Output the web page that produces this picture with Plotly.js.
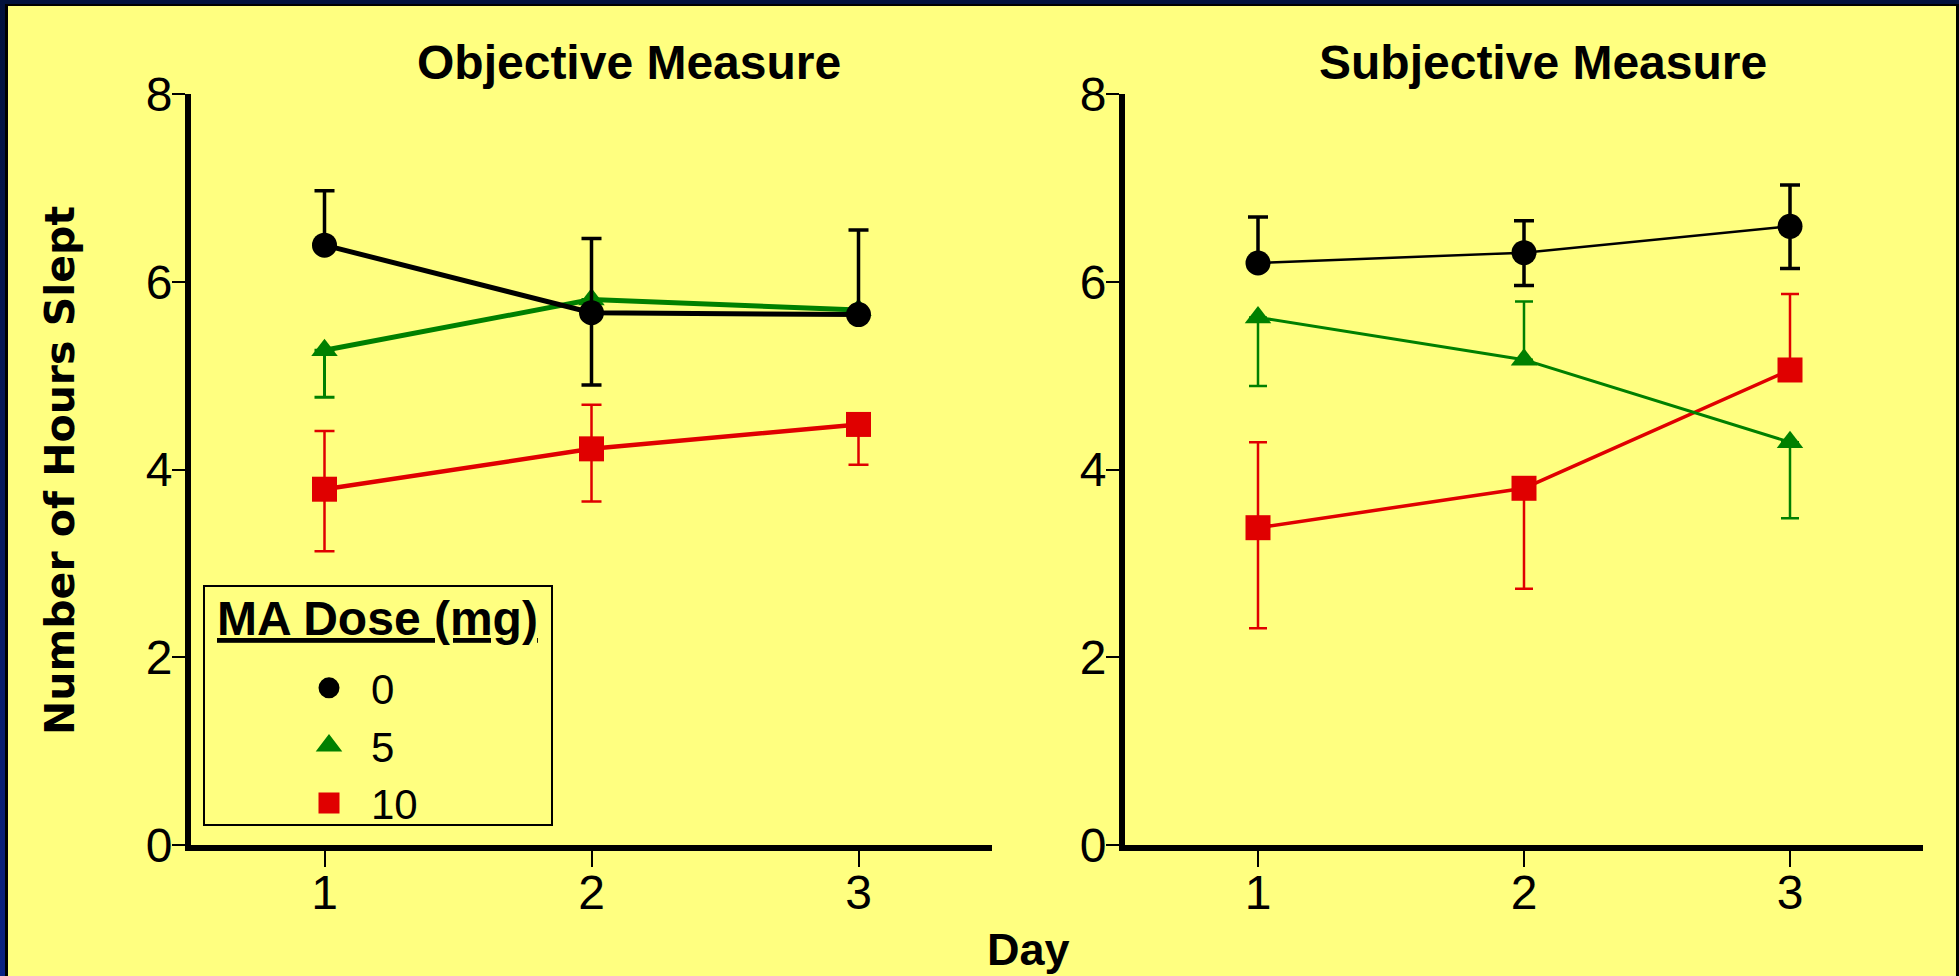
<!DOCTYPE html>
<html>
<head>
<meta charset="utf-8">
<script src="https://cdn.plot.ly/plotly-3.0.1.min.js"></script>
<style>
  html, body { margin: 0; padding: 0; }
  body { width: 1959px; height: 976px; overflow: hidden; background: linear-gradient(to bottom, #02113c 0%, #07195e 55%, #0b2282 100%); position: relative; }
  #frame { position: absolute; left: 5px; top: 4px; width: 1954px; height: 972px; background: #000; }
  #plot { position: absolute; left: 3px; top: 2px; width: 1948px; height: 970px; }
</style>
</head>
<body>
<div id="frame"><div id="plot"></div></div>
<script>
// ---- data ----
const days = [1, 2, 3];
const doseLabels = ['0', '5', '10'];

// Objective measure
const obj0 = [6.39, 5.67, 5.65];
const obj0Up = [0.58, 0.79, 0.90];
const obj0Down = [0, 0.77, 0];
const obj5 = [5.27, 5.81, 5.70];
const obj5Up = [0, 0, 0];
const obj5Down = [0.50, 0, 0];
const obj10 = [3.79, 4.22, 4.48];
const obj10Up = [0.62, 0.47, 0];
const obj10Down = [0.66, 0.56, 0.43];

// Subjective measure
const sub0 = [6.20, 6.31, 6.59];
const sub0Up = [0.49, 0.34, 0.44];
const sub0Down = [0, 0.35, 0.45];
const sub5 = [5.62, 5.17, 4.29];
const sub5Up = [0, 0.62, 0];
const sub5Down = [0.73, 0, 0.81];
const sub10 = [3.38, 3.80, 5.06];
const sub10Up = [0.91, 0, 0.81];
const sub10Down = [1.07, 1.07, 0];

const yTicks = [0, 2, 4, 6, 8];
const xTicks = [1, 2, 3];

// ---- style ----
const W = 1948, H = 970, OX = 8, OY = 6;
const px = x => (x - OX) / W;
const py = y => 1 - (y - OY) / H;

const BLACK = '#000000', GREEN = '#008000', RED = '#e00000';
const FONT = '"Liberation Sans", Arial, sans-serif';

function tr(x, y, up, down, color, symbol, size, lw, ew, ecap, xa, ya, name) {
  return {
    x: x, y: y, type: 'scatter', mode: 'lines+markers', name: name, showlegend: false,
    xaxis: xa, yaxis: ya,
    line: { color: color, width: lw },
    marker: { color: color, symbol: symbol, size: size },
    error_y: { type: 'data', symmetric: false, array: up, arrayminus: down,
               color: color, thickness: ew, width: ecap },
    hoverinfo: 'x+y'
  };
}

function legendEntry(name, color, symbol, lineW) {
  return { x: [null], y: [null], type: 'scatter', mode: 'markers', name: name,
           marker: { color: color, symbol: symbol, size: 24, line: { color: color, width: lineW } },
           xaxis: 'x', yaxis: 'y' };
}

const traces = [
  tr(days, obj10, obj10Up, obj10Down, RED, 'square', 25, 4.5, 2.5, 10, 'x', 'y', doseLabels[2]),
  tr(days, obj5, obj5Up, obj5Down, GREEN, 'triangle-up', 23, 5, 3, 10, 'x', 'y', doseLabels[1]),
  tr(days, obj0, obj0Up, obj0Down, BLACK, 'circle', 25, 5, 3.5, 10, 'x', 'y', doseLabels[0]),
  tr(days, sub10, sub10Up, sub10Down, RED, 'square', 25, 3.5, 2.5, 9, 'x2', 'y2', doseLabels[2]),
  tr(days, sub5, sub5Up, sub5Down, GREEN, 'triangle-up', 23, 3, 2.5, 9, 'x2', 'y2', doseLabels[1]),
  tr(days, sub0, sub0Up, sub0Down, BLACK, 'circle', 25, 2.5, 3.5, 10, 'x2', 'y2', doseLabels[0]),
  legendEntry(doseLabels[0], BLACK, 'circle', 5),
  legendEntry(doseLabels[1], GREEN, 'triangle-up', 4),
  legendEntry(doseLabels[2], RED, 'square', 5)
];

const xaxisBase = {
  range: [0.5, 3.5], tickvals: xTicks, ticktext: xTicks.map(String),
  showline: true, linecolor: '#000', linewidth: 6, ticks: 'outside', ticklen: 16, tickwidth: 2,
  tickcolor: '#000', showgrid: false, zeroline: false, ticklabelstandoff: -16,
  tickfont: { family: FONT, size: 48, color: '#000' }, fixedrange: true
};
const yaxisBase = {
  range: [0, 8], tickvals: yTicks, ticktext: yTicks.map(String),
  showline: true, linecolor: '#000', linewidth: 6, ticks: 'outside', ticklen: 13, tickwidth: 2,
  tickcolor: '#000', showgrid: false, zeroline: false, ticklabelstandoff: -10,
  tickfont: { family: FONT, size: 48, color: '#000' }, fixedrange: true
};

const layout = {
  width: W, height: H,
  margin: { l: 0, r: 0, t: 0, b: 0 },
  paper_bgcolor: '#ffff80', plot_bgcolor: 'rgba(0,0,0,0)',
  xaxis: Object.assign({}, xaxisBase, { domain: [px(191), px(992)], anchor: 'y' }),
  yaxis: Object.assign({}, yaxisBase, { domain: [py(845), py(94)], anchor: 'x' }),
  xaxis2: Object.assign({}, xaxisBase, { domain: [px(1125), px(1923)], anchor: 'y2' }),
  yaxis2: Object.assign({}, yaxisBase, { domain: [py(845), py(94)], anchor: 'x2' }),
  showlegend: true,
  legend: {
    x: px(287), y: py(654), xanchor: 'left', yanchor: 'top',
    bgcolor: 'rgba(0,0,0,0)', borderwidth: 0, itemwidth: 74,
    font: { family: FONT, size: 42, color: '#000' }, traceorder: 'normal'
  },
  shapes: [
    { type: 'rect', xref: 'paper', yref: 'paper', x0: px(204), x1: px(552), y0: py(825), y1: py(586),
      line: { color: '#000', width: 2 }, fillcolor: 'rgba(0,0,0,0)', layer: 'above' }
  ],
  annotations: [
    { text: 'Objective Measure', xref: 'paper', yref: 'paper', x: px(629), y: py(62), xanchor: 'center', yanchor: 'middle',
      showarrow: false, font: { family: FONT, size: 48, color: '#000', weight: 'bold' } },
    { text: 'Subjective Measure', xref: 'paper', yref: 'paper', x: px(1543), y: py(62), xanchor: 'center', yanchor: 'middle',
      showarrow: false, font: { family: FONT, size: 48, color: '#000', weight: 'bold' } },
    { text: 'Number of Hours Slept', xref: 'paper', yref: 'paper', x: px(60), y: py(471), xanchor: 'center', yanchor: 'middle',
      textangle: -90, showarrow: false, font: { family: '"DejaVu Sans", sans-serif', size: 41, color: '#000', weight: 'bold' } },
    { text: 'Day', xref: 'paper', yref: 'paper', x: px(1028), y: py(949), xanchor: 'center', yanchor: 'middle',
      showarrow: false, font: { family: FONT, size: 45, color: '#000', weight: 'bold' } },
    { text: '<u>MA Dose (mg)</u>', xref: 'paper', yref: 'paper', x: px(377), y: py(618), xanchor: 'center', yanchor: 'middle',
      showarrow: false, font: { family: FONT, size: 48, color: '#000', weight: 'bold' } }
  ]
};

Plotly.newPlot('plot', traces, layout, { displayModeBar: false, staticPlot: true });
</script>
</body>
</html>
